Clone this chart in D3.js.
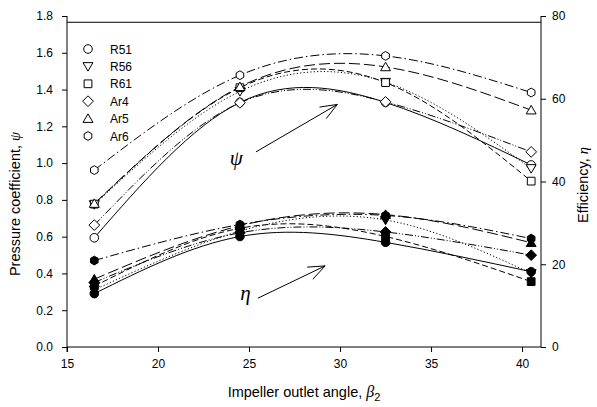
<!DOCTYPE html>
<html><head><meta charset="utf-8">
<script src="https://cdn.jsdelivr.net/npm/d3@7"></script>
<style>body{margin:0;background:#fff}svg{display:block}text{font-family:"Liberation Sans",Arial,sans-serif}</style>
</head><body><svg id="c" width="597" height="407"></svg>
<script>
const angles = [16.5, 24.5, 32.5, 40.5];
const seriesNames = ["R51","R56","R61","Ar4","Ar5","Ar6"];
const psiR51 = [0.594, 1.33, 1.33, 0.99];
const psiR56 = [0.775, 1.39, 1.44, 0.971];
const psiR61 = [0.777, 1.41, 1.438, 0.902];
const psiAr4 = [0.663, 1.328, 1.333, 1.061];
const psiAr5 = [0.78, 1.415, 1.523, 1.288];
const psiAr6 = [0.962, 1.478, 1.583, 1.384];
const etaR51 = [12.9, 26.7, 25.3, 18.2];
const etaR56 = [13.8, 28.0, 30.7, 17.8];
const etaR61 = [14.7, 28.7, 26.7, 15.8];
const etaAr4 = [15.6, 27.6, 27.8, 22.2];
const etaAr5 = [16.4, 29.3, 32.0, 25.2];
const etaAr6 = [20.9, 29.6, 31.8, 26.2];
const xTicks = [15, 20, 25, 30, 35, 40];
const psiTicks = [0, 0.2, 0.4, 0.6, 0.8, 1.0, 1.2, 1.4, 1.6, 1.8];
const etaTicks = [0, 20, 40, 60, 80];

const psiData = [psiR51, psiR56, psiR61, psiAr4, psiAr5, psiAr6];
const etaData = [etaR51, etaR56, etaR61, etaAr4, etaAr5, etaAr6];
const shapes = ["circle","tridown","square","diamond","triup","hex"];
const dashes = [null, "1.2,2.2", "6,3", "8,2,1,2,1,2", "11,4", "9,3,1.5,3"];

const svg = d3.select("#c");
const x = d3.scaleLinear().domain([15, 41.04]).range([67, 541]);
const yL = d3.scaleLinear().domain([0, 1.8]).range([347, 16]);
const yR = d3.scaleLinear().domain([0, 80]).range([347, 16]);

function shapePath(s, r) {
  if (s === "circle") return d3.symbol().type(d3.symbolCircle).size(Math.PI*r*r)();
  if (s === "square") { const a = r*0.9; return `M${-a},${-a}H${a}V${a}H${-a}Z`; }
  if (s === "diamond") { const a = r*1.25; return `M0,${-a}L${a},0L0,${a}L${-a},0Z`; }
  if (s === "triup") { const a = r*1.1; return `M0,${-a}L${a*1.05},${a*0.8}L${-a*1.05},${a*0.8}Z`; }
  if (s === "tridown") { const a = r*1.1; return `M0,${a}L${a*1.05},${-a*0.8}L${-a*1.05},${-a*0.8}Z`; }
  if (s === "hex") { let p=""; for (let i=0;i<6;i++){const t=Math.PI/3*i+Math.PI/6; p+=(i?"L":"M")+(r*1.02*Math.cos(t)).toFixed(2)+","+(r*1.02*Math.sin(t)).toFixed(2);} return p+"Z"; }
}

// axes
const gx = svg.append("g").attr("transform","translate(0,347)")
  .call(d3.axisBottom(x).tickValues(xTicks).tickSize(5).tickPadding(7).tickFormat(d3.format("d")));
const gl = svg.append("g").attr("transform","translate(67,0)")
  .call(d3.axisLeft(yL).tickValues(psiTicks).tickSize(5).tickPadding(9).tickFormat(d3.format(".1f")));
const gr = svg.append("g").attr("transform","translate(541,0)")
  .call(d3.axisRight(yR).tickValues(etaTicks).tickSize(5).tickPadding(6).tickFormat(d3.format("d")));
[gx, gl, gr].forEach(g => {
  g.select(".domain").remove();
  g.selectAll("line").attr("stroke","#000").attr("stroke-width",1);
  g.selectAll("text").attr("font-size","12px").attr("fill","#000").style("font-family","'Liberation Sans',Arial,sans-serif");
});
svg.append("line").attr("x1",67).attr("x2",541).attr("y1",347).attr("y2",347).attr("stroke","#000");
svg.append("line").attr("x1",67).attr("x2",67).attr("y1",16).attr("y2",352).attr("stroke","#000");
svg.append("line").attr("x1",541).attr("x2",541).attr("y1",16).attr("y2",347).attr("stroke","#000");
svg.append("line").attr("x1",67).attr("x2",541).attr("y1",yL(1.766)).attr("y2",yL(1.766)).attr("stroke","#000");

// lines
const mkLine = (ys) => d3.line().x(d => x(d[0])).y(d => ys(d[1])).curve(d3.curveNatural);
function drawGroup(data, ys, filled) {
  data.forEach((vals, i) => {
    const pts = angles.map((a, j) => [a, vals[j]]);
    svg.append("path").attr("d", mkLine(ys)(pts)).attr("fill","none").attr("stroke","#000")
      .attr("stroke-width",1).attr("stroke-dasharray", dashes[i]);
  });
  data.forEach((vals, i) => {
    svg.append("g").selectAll("path").data(angles.map((a, j) => [a, vals[j]])).join("path")
      .attr("d", shapePath(shapes[i], 4.3))
      .attr("transform", d => `translate(${x(d[0])},${ys(d[1])})`)
      .attr("fill", filled ? "#000" : "#fff").attr("stroke","#000").attr("stroke-width",1);
  });
}
drawGroup(etaData, yR, true);
drawGroup(psiData, yL, false);

// legend
seriesNames.forEach((n, i) => {
  const yy = 49 + i*17.4;
  svg.append("path").attr("d", shapePath(shapes[i], 4.3)).attr("transform", `translate(88,${yy})`)
    .attr("fill","#fff").attr("stroke","#000");
  svg.append("text").attr("x", 110).attr("y", yy+4.5).attr("font-size","12px").text(n);
});

// annotations
function arrow(x1, y1, x2, y2) {
  svg.append("line").attr("x1",x1).attr("y1",y1).attr("x2",x2).attr("y2",y2).attr("stroke","#000");
  const ang = Math.atan2(y2-y1, x2-x1), L = 18, w = 0.38;
  [ang+Math.PI-w, ang+Math.PI+w].forEach(t => {
    svg.append("line").attr("x1",x2).attr("y1",y2).attr("x2",x2+L*Math.cos(t)).attr("y2",y2+L*Math.sin(t)).attr("stroke","#000");
  });
}
arrow(x(25.38), yL(1.061), x(29.85), yL(1.319));
arrow(x(25.49), yR(11.8), x(29.18), yR(19.6));
svg.append("text").attr("x", x(24.3)).attr("y", yL(0.99)).attr("text-anchor","middle")
  .attr("font-size","21px").attr("font-style","italic").style("font-family","'Liberation Serif','Times New Roman',serif").text("ψ");
svg.append("text").attr("x", x(24.8)).attr("y", yR(11.4)).attr("text-anchor","middle")
  .attr("font-size","21px").attr("font-style","italic").style("font-family","'Liberation Serif','Times New Roman',serif").text("η");

// axis titles
const lt = svg.append("text").attr("transform","translate(20,204) rotate(-90)").attr("text-anchor","middle").attr("font-size","14.5px");
lt.append("tspan").text("Pressure coefficient, ");
lt.append("tspan").attr("font-style","italic").style("font-family","'Liberation Serif',serif").text("ψ");
const rt = svg.append("text").attr("transform","translate(588,185) rotate(-90)").attr("text-anchor","middle").attr("font-size","14.5px");
rt.append("tspan").text("Efficiency, ");
rt.append("tspan").attr("font-style","italic").style("font-family","'Liberation Serif',serif").text("η");
const bt = svg.append("text").attr("x", 304).attr("y", 397).attr("text-anchor","middle").attr("font-size","14.5px");
bt.append("tspan").text("Impeller outlet angle, ");
bt.append("tspan").attr("font-style","italic").style("font-family","'Liberation Serif',serif").attr("font-size","16px").text("β");
bt.append("tspan").attr("font-size","11px").attr("dy","4").text("2");
</script></body></html>
